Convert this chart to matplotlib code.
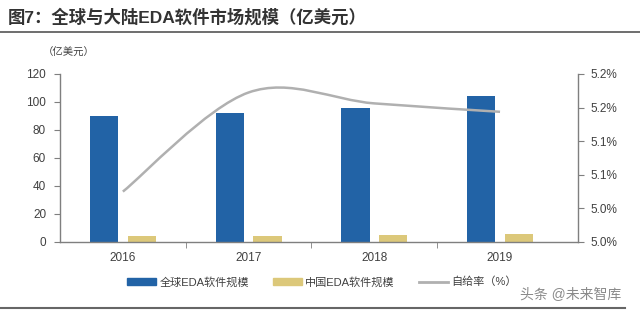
import matplotlib
matplotlib.use("Agg")
import matplotlib.pyplot as plt
from matplotlib.path import Path
from matplotlib.patches import PathPatch, Patch
from matplotlib.lines import Line2D
import numpy as np

plt.rcParams['font.family'] = ['Liberation Sans', 'Noto Sans CJK SC', 'DejaVu Sans']

years = ['2016', '2017', '2018', '2019']
global_eda = [90, 92, 96, 104]
china_eda = [4.4, 4.6, 5.0, 5.4]
ratio = [5.06, 5.178, 5.165, 5.155]
left_ticks = [0, 20, 40, 60, 80, 100, 120]
right_ticks = [5.00, 5.04, 5.08, 5.12, 5.16, 5.20]

title = '图7：全球与大陆EDA软件市场规模（亿美元）'
unit = '（亿美元）'
legend_labels = ['全球EDA软件规模', '中国EDA软件规模', '自给率（%）']

blue = '#2263a6'
yellow = '#dcc87a'
gray_line = '#b0b0b0'
axis_col = '#7f7f7f'
text_col = '#404040'

fig = plt.figure(figsize=(6.4, 3.11), dpi=100)
ax = fig.add_axes([60/640, (311-242)/311, (578-60)/640, (242-74)/311])
ax2 = ax.twinx()

x = np.arange(len(years))
w = 0.225
ax.bar(x - 0.15, global_eda, width=w, color=blue, zorder=2)
ax.bar(x + 0.15, china_eda, width=w, color=yellow, zorder=2)

ax.set_xlim(-0.5, 3.62)
ax.set_ylim(0, 120)
ax.set_yticks(left_ticks)
ax.set_xticks(x)
ax.set_xticklabels(years)
ax.set_xticks([0.5, 1.5, 2.5], minor=True)
ax.tick_params(axis='x', which='major', length=0, pad=7, labelsize=8.5, colors=text_col)
ax.tick_params(axis='x', which='minor', length=4, direction='out', color=axis_col)
ax.tick_params(axis='y', length=4, direction='out', color=axis_col, labelsize=8.5, labelcolor=text_col, pad=6)

# smoothed ratio line drawn as Bezier path through the data points
pts = list(zip(x.astype(float), ratio))
verts = [pts[0]]
codes = [Path.MOVETO]
n = len(pts)
for i in range(n - 1):
    p0 = pts[i - 1] if i > 0 else pts[i]
    p1 = pts[i]
    p2 = pts[i + 1]
    p3 = pts[i + 2] if i + 2 < n else pts[i + 1]
    c1 = (p1[0] + (p2[0] - p0[0]) / 6, p1[1] + (p2[1] - p0[1]) / 6)
    c2 = (p2[0] - (p3[0] - p1[0]) / 6, p2[1] - (p3[1] - p1[1]) / 6)
    verts += [c1, c2, p2]
    codes += [Path.CURVE4] * 3
ax2.add_patch(PathPatch(Path(verts, codes), fill=False, edgecolor=gray_line, lw=1.8, zorder=3))
ax2.set_ylim(5.0, 5.2)
ax2.set_yticks(right_ticks)
ax2.set_yticklabels(['%.1f%%' % v for v in right_ticks])
ax2.tick_params(axis='y', length=4, direction='out', color=axis_col, labelsize=8.5, labelcolor=text_col, pad=5)

for a in (ax, ax2):
    a.spines['top'].set_visible(False)
    for s in ('left', 'right', 'bottom'):
        a.spines[s].set_color(axis_col)
        a.spines[s].set_linewidth(1)
ax.spines['right'].set_visible(False)
ax2.spines['left'].set_visible(False)
ax2.spines['bottom'].set_visible(False)

# title and rules
fig.text(8/640, 1 - 17/311, title, fontsize=12.5, fontweight='bold', color='#333333', va='center', ha='left')
fig.add_artist(Line2D([0, 1], [1 - 32/311, 1 - 32/311], color='#555555', lw=1.2, transform=fig.transFigure))
fig.add_artist(Line2D([0, 625/640], [1 - 308/311, 1 - 308/311], color='#666666', lw=1.5, transform=fig.transFigure))
fig.text(43/640, 1 - 53/311, unit, fontsize=7.5, color=text_col, va='center', ha='left', style='italic')

handles = [Patch(color=blue), Patch(color=yellow), Line2D([0], [0], color=gray_line, lw=2)]
fig.legend(handles, legend_labels, loc='center', bbox_to_anchor=(322/640, 1 - 282/311), ncol=3,
           frameon=False, fontsize=8, handlelength=2.6, handleheight=0.5, columnspacing=2.2,
           handletextpad=0.3, labelcolor=text_col)

fig.text(520/640, 1 - 295/311, '头条 @未来智库', fontsize=10, color='#8a8a8a', va='center', ha='left')

fig.savefig('out.png', dpi=100)
